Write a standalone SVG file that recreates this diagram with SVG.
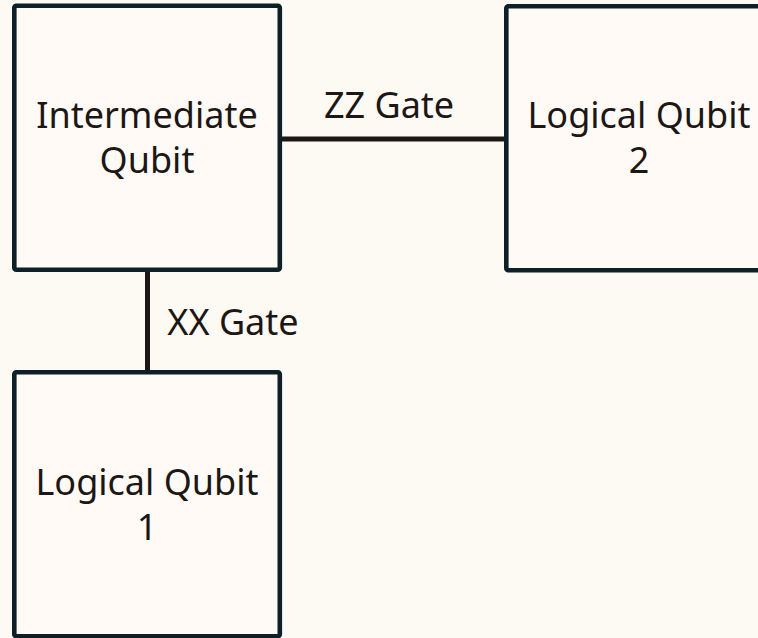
<svg xmlns="http://www.w3.org/2000/svg" width="758" height="638" viewBox="0 0 758 638">
  <style>
    .node rect { fill: #fffaf6; stroke: #0d1f27; stroke-width: 4.6; }
    .node text, .label { font-family: "Noto Sans", "Open Sans", sans-serif; font-size: 36px; fill: #1c1714; text-anchor: middle; }
    .link { stroke: #1c1714; stroke-width: 5; fill: none; }
  </style>
  <rect width="758" height="638" fill="#fdf9f3"/>

  <!-- connectors -->
  <g id="connectors">
    <line class="link" x1="282" y1="139" x2="504" y2="139"/>
    <line class="link" x1="147.5" y1="272" x2="147.5" y2="370"/>
    <text class="label" x="389" y="118">ZZ Gate</text>
    <text class="label" x="233" y="335">XX Gate</text>
  </g>

  <!-- qubit nodes -->
  <g id="intermediate-qubit" class="node">
    <rect x="14.3" y="5.8" width="265.5" height="264" rx="2"/>
    <text x="147" y="128">Intermediate</text>
    <text x="147" y="173">Qubit</text>
  </g>

  <g id="logical-qubit-2" class="node">
    <rect x="506.3" y="6.3" width="265.5" height="264" rx="2"/>
    <text x="639" y="128">Logical Qubit</text>
    <text x="639" y="173">2</text>
  </g>

  <g id="logical-qubit-1" class="node">
    <rect x="14.3" y="372.3" width="265.5" height="264" rx="2"/>
    <text x="147" y="495">Logical Qubit</text>
    <text x="147" y="540">1</text>
  </g>
</svg>
